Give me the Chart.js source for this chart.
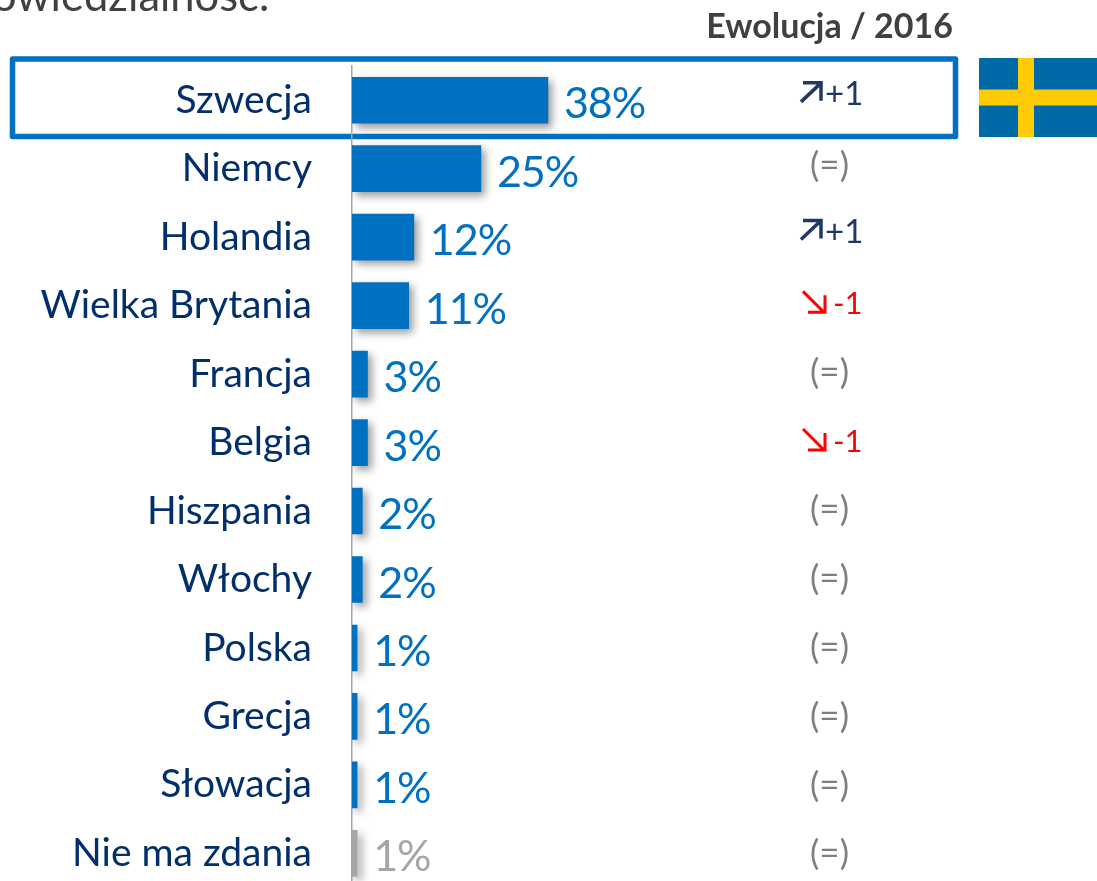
<!DOCTYPE html>
<html><head><meta charset="utf-8">
<style>html,body{margin:0;padding:0;background:#fff;overflow:hidden}#w{position:relative;width:1097px;height:881px;overflow:hidden}canvas{display:block}</style>
<script src="https://cdn.jsdelivr.net/npm/chart.js@4"></script></head>
<body><div id="w"><div style="width:1097px;height:951px"><canvas id="c" width="1097" height="951"></canvas></div></div>
<script>
const categories=["Szwecja","Niemcy","Holandia","Wielka Brytania","Francja","Belgia","Hiszpania","Włochy","Polska","Grecja","Słowacja","Nie ma zdania"];
const values=[38,25,12,11,3,3,2,2,1,1,1,1];
const barColors=["#0070c0","#0070c0","#0070c0","#0070c0","#0070c0","#0070c0","#0070c0","#0070c0","#0070c0","#0070c0","#0070c0","#a6a6a6"];
const labelColors=["#0070c0","#0070c0","#0070c0","#0070c0","#0070c0","#0070c0","#0070c0","#0070c0","#0070c0","#0070c0","#0070c0","#a6a6a6"];
const evolution=["up","=","up","down","=","down","=","=","=","=","=","="];
const evolutionHeader="Ewolucja / 2016";
const heading="owiedzialność:";
const FONT="Lato";
function drawArrow(ctx,x,y,dir,color){
  ctx.save();ctx.strokeStyle=color;ctx.lineWidth=dir==="up"?3.5:3;ctx.lineCap="butt";ctx.lineJoin="miter";ctx.beginPath();
  if(dir==="up"){ctx.moveTo(x,y+10);ctx.lineTo(x+19,y-8);ctx.moveTo(x+2,y-9);ctx.lineTo(x+20,y-9);ctx.lineTo(x+20,y+9);}
  else{ctx.moveTo(x+1,y-11);ctx.lineTo(x+22,y+10);ctx.moveTo(x+6,y+10);ctx.lineTo(x+23,y+10);ctx.lineTo(x+23,y-7);}
  ctx.stroke();ctx.restore();
}
const decor={id:"decor",
 beforeDraw(ch){
  const c=ch.ctx,ys=ch.scales.y,y0=ys.getPixelForValue(0);
  c.save();
  c.strokeStyle="#0070c0";c.lineWidth=5.5;c.lineJoin="round";
  c.strokeRect(12.5,59,943,77.5);
  c.fillStyle="#006aa7";c.fillRect(979,58,118,79);
  c.fillStyle="#fecc00";c.fillRect(1018,58,16,79);c.fillRect(979,89.5,118,16);
  c.fillStyle="#404040";c.font="43.5px "+FONT;c.textAlign="left";c.textBaseline="alphabetic";
  c.fillText(heading,-8,11);
  c.font="bold 34px "+FONT;c.fillStyle="#404040";c.textAlign="right";
  c.fillText(evolutionHeader,953,38);
  c.restore();
 },
 beforeDatasetDraw(ch){const c=ch.ctx;c.save();c.shadowColor="rgba(0,0,0,.4)";c.shadowBlur=8;c.shadowOffsetX=4;c.shadowOffsetY=4;},
 afterDatasetDraw(ch){ch.ctx.restore();},
 afterDatasetsDraw(ch){
  const c=ch.ctx,xs=ch.scales.x,ys=ch.scales.y;
  c.save();c.textBaseline="alphabetic";
  values.forEach((v,i)=>{
    const y=ys.getPixelForValue(i);
    c.font="43px "+FONT;c.fillStyle=labelColors[i];c.textAlign="left";
    c.letterSpacing="-1px";
    c.fillText(v+"%",xs.getPixelForValue(v)+16,y+18);
    c.letterSpacing="0px";
    const e=evolution[i],ye=y+(i-1)*0.36;
    c.textAlign="left";
    if(e==="="){c.font="35px "+FONT;c.fillStyle="#7f7f7f";c.textAlign="center";c.fillText("(=)",829.5,ye+8.5);}
    else if(e==="up"){c.font="33px "+FONT;drawArrow(c,801,ye-8,"up","#1f3864");c.fillStyle="#1f3864";c.fillText("+1",825,ye+5.5);}
    else{c.font="31px "+FONT;drawArrow(c,802,ye-4,"down","#ff0000");c.fillStyle="#ff0000";c.fillText("-1",833,ye+8);}
  });
  c.restore();
 }};
new Chart(document.getElementById("c"),{type:"bar",
 data:{labels:categories,datasets:[{data:values,backgroundColor:barColors,barThickness:46,borderWidth:0}]},
 options:{indexAxis:"y",responsive:false,animation:false,
  layout:{padding:{top:66,left:0,right:0,bottom:0}},
  plugins:{legend:{display:false},tooltip:{enabled:false}},
  scales:{
   x:{display:false,min:0,max:144.5},
   y:{afterFit(s){s.width=352;},
      grid:{display:false,drawTicks:false},
      border:{color:"#a6a6a6",width:1.5},
      ticks:{padding:40,color:"#002f6c",font:{family:FONT,size:39},autoSkip:false}}
  }},
 plugins:[decor]});
</script></body></html>
